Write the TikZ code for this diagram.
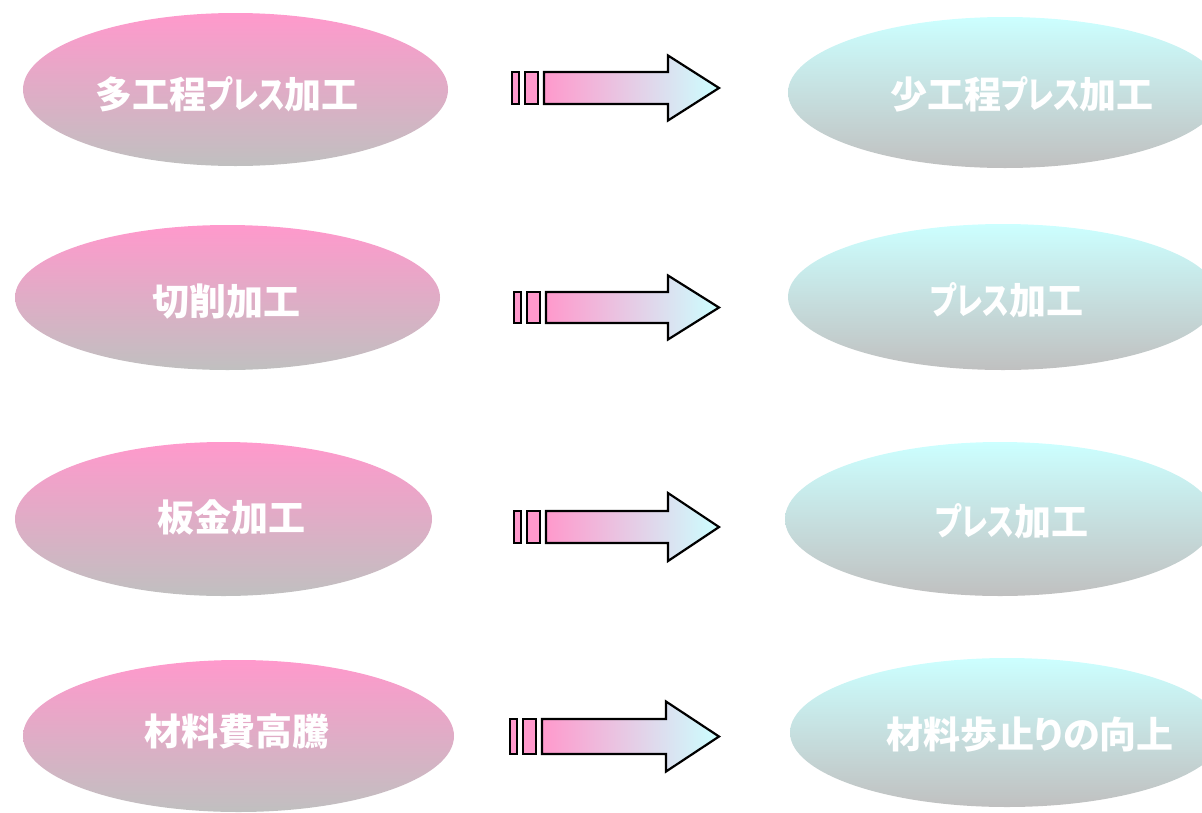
\documentclass[tikz,border=0pt]{standalone}
\usepackage{fontspec}
\newfontfamily\jpfont{Noto Sans CJK JP}[RawFeature=+palt]
\usetikzlibrary{shapes.geometric}
\definecolor{pinkc}{HTML}{FF99CC}
\definecolor{cyanc}{HTML}{CCFFFF}
\definecolor{grayc}{HTML}{C0C0C0}
\newcommand{\narrowkana}[1]{\scalebox{0.76}[1]{#1}}
\tikzset{
  oval/.style={ellipse, draw=none, inner sep=0pt},
  pinkoval/.style={oval, top color=pinkc, bottom color=grayc},
  cyanoval/.style={oval, top color=cyanc, bottom color=grayc},
  lbl/.style={text=white, font=\jpfont\bfseries\fontsize{37}{40}\selectfont, inner sep=0pt},
  arrowbody/.style={draw=black, line width=2.2pt, left color=pinkc, right color=cyanc, line join=miter},
  arrowbar/.style={draw=black, line width=2.2pt, fill=pinkc},
}
\newcommand{\blockarrow}[5]{% #1 y, #2 x of first bar, #3 shaft half, #4 head half, #5 head x
  \draw[arrowbar] (#2,#1-#3) rectangle (#2+7,#1+#3);
  \draw[arrowbar] (#2+13,#1-#3) rectangle (#2+26,#1+#3);
  \draw[arrowbody] (#2+32,#1-#3) -- (#5,#1-#3) -- (#5,#1-#4) -- (719,#1) -- (#5,#1+#4) -- (#5,#1+#3) -- (#2+32,#1+#3) -- cycle;
}
\begin{document}
\begin{tikzpicture}[x=1pt,y=-1pt]
\useasboundingbox (0,0) rectangle (1202,812);
\clip (0,0) rectangle (1202,812);
% left ovals
\node[pinkoval, minimum width=425pt, minimum height=153pt] (e1) at (235.5,89.5) {};
\node[pinkoval, minimum width=425pt, minimum height=145pt] (e2) at (227.5,297.5) {};
\node[pinkoval, minimum width=417pt, minimum height=154pt] (e3) at (223.5,519) {};
\node[pinkoval, minimum width=431pt, minimum height=152pt] (e4) at (238.5,736) {};
% right ovals
\node[cyanoval, minimum width=434pt, minimum height=151pt] (f1) at (1005,92.5) {};
\node[cyanoval, minimum width=430pt, minimum height=146pt] (f2) at (1003,297) {};
\node[cyanoval, minimum width=430pt, minimum height=154pt] (f3) at (1000,519) {};
\node[cyanoval, minimum width=434pt, minimum height=149pt] (f4) at (1007,732.5) {};
% labels
\node[lbl] (t1) at (227,94) {多工程\narrowkana{プレス}加工};
\node[lbl] (t2) at (226,302) {切削加工};
\node[lbl] (t3) at (231,517) {板金加工};
\node[lbl] (t4) at (237,731) {材料費高騰};
\node[lbl] (u1) at (1022,94) {少工程\narrowkana{プレス}加工};
\node[lbl] (u2) at (1007,300) {\narrowkana{プレス}加工};
\node[lbl] (u3) at (1012,521) {\narrowkana{プレス}加工};
\node[lbl] (u4) at (1030,735) {材料歩止りの向上};
% block arrows
\blockarrow{88}{512}{16}{32.5}{668}
\blockarrow{307.5}{514}{15.5}{32}{668}
\blockarrow{527}{514}{16}{34}{668}
\blockarrow{736.5}{510}{17.5}{35}{666}
\end{tikzpicture}
\end{document}
